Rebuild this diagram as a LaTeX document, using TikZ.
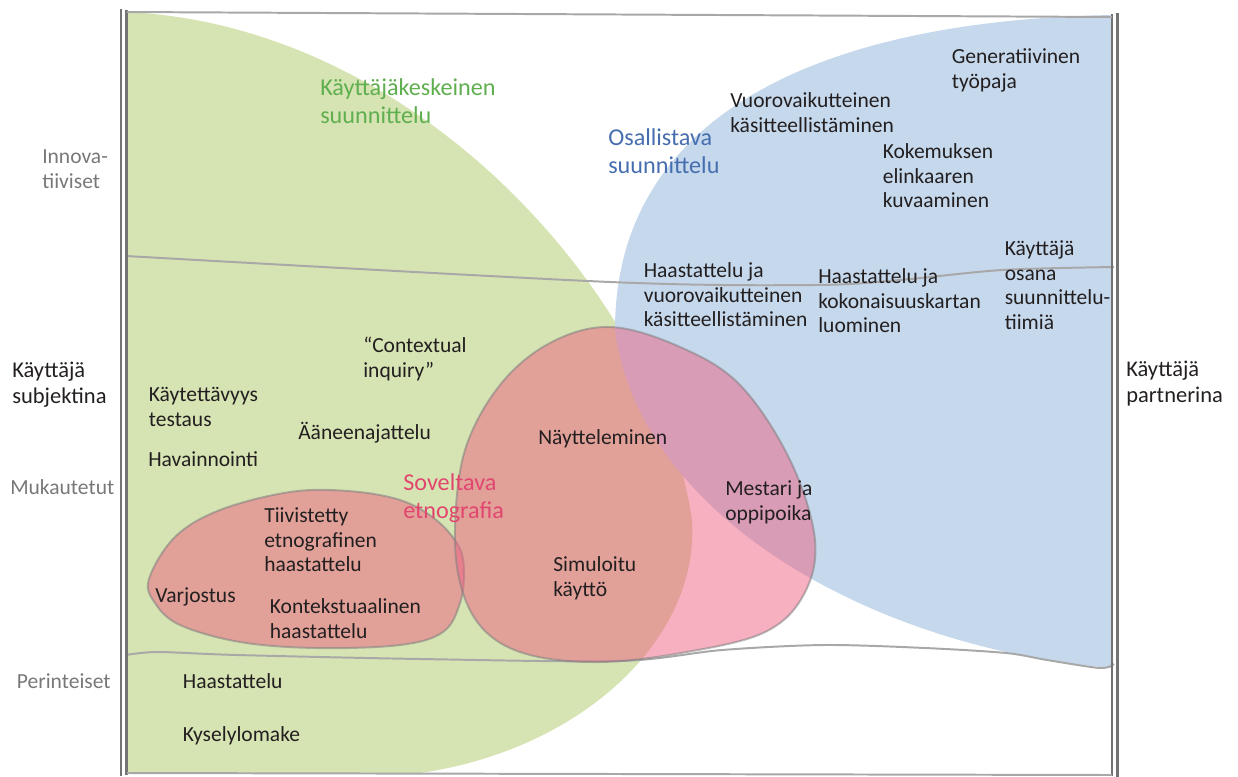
\documentclass[tikz,border=0pt]{standalone}
\usepackage{fontspec}
\setmainfont{Carlito}
\definecolor{kkgreen}{RGB}{214,227,178}
\definecolor{osblue}{RGB}{197,216,236}
\definecolor{sepink}{RGB}{237,97,129}
\definecolor{ink}{RGB}{35,31,32}
\definecolor{axisgrey}{RGB}{120,120,120}
\definecolor{framegrey}{RGB}{115,115,115}
\definecolor{linegrey}{RGB}{168,168,168}
\definecolor{greentext}{RGB}{95,175,80}
\definecolor{bluetext}{RGB}{70,110,175}
\definecolor{pinktext}{RGB}{225,70,110}
\newcommand\txtfont{\fontsize{15.3pt}{17.6pt}\selectfont}
\newcommand\sidefont{\fontsize{16pt}{18pt}\selectfont}
\newcommand\titlefont{\fontsize{17.2pt}{19.6pt}\selectfont}
\begin{document}
\begin{tikzpicture}[x=0.025cm,y=-0.025cm,
	lbl/.style={anchor=north west,inner sep=0pt,align=left,font=\txtfont,text=ink,yshift=12.32pt},
	axislbl/.style={lbl,text=axisgrey},
	sidelbl/.style={lbl,font=\sidefont,yshift=12.6pt},
	title/.style={lbl,font=\titlefont,yshift=13.72pt},
	blob/.style={fill=sepink,fill opacity=0.5,draw=gray,draw opacity=0.55,line width=1.4pt},
	frame/.style={draw=framegrey,line width=1.6pt},
	band/.style={draw=linegrey,line width=1.4pt}]
	\useasboundingbox (0,0) rectangle (1238,777);
	\fill[kkgreen] (126,12) .. controls (420,25) and (660,300) .. (692,520)
		.. controls (700,640) and (580,750) .. (420,773) -- (126,773) -- cycle;
	\fill[osblue] (1113,15) .. controls (820,20) and (615,115) .. (615,330)
		.. controls (640,520) and (880,650) .. (1113,668) -- cycle;
	\draw[band] plot[smooth,tension=0.5] coordinates {(126,256) (610,282) (815,285) (900,280) (1002,270) (1114,267)};
	\draw[band] plot[smooth,tension=0.5] coordinates {(126,655) (158,652) (237,655) (420,659) (620,661) (722,650) (824,645) (925,648) (1006,653) (1047,660) (1100,668) (1114,664)};
	\filldraw[blob] plot[smooth cycle,tension=0.6] coordinates {(149,579) (175,537) (220,510) (290,492) (348,491) (400,500) (435,519) (458,545) (464,570) (460,603) (443,632) (400,645) (316,648) (240,642) (180,625) (155,603)};
	\filldraw[blob] plot[smooth cycle,tension=0.6] coordinates {(610,327) (680,347) (740,385) (790,460) (815,540) (803,596) (763,633) (681,653) (600,662) (530,655) (486,632) (462,590) (455,530) (465,450) (500,385) (550,343)};
	\draw[frame] (121,9) -- (121,776);
	\draw[frame] (126.5,10) -- (126.5,775);
	\draw[frame] (1112,14) -- (1112,776);
	\draw[frame] (1117.5,13) -- (1117.5,777);
	\draw[band] (127,12) -- (1112,17);
	\draw[band] (127,773) -- (1112,775);
	\node[axislbl] (innova) at (42,163) {\strut Innova-\\tiiviset};
	\node[axislbl] (mukautetut) at (10,494) {\strut Mukautetut};
	\node[axislbl] (perinteiset) at (16.6,688) {\strut Perinteiset};
	\node[sidelbl] (subjektina) at (12,395) {\strut Käyttäjä\\subjektina};
	\node[sidelbl] (partnerina) at (1126,394) {\strut Käyttäjä\\partnerina};
	\node[title,text=greentext] (kkeskeinen) at (320,113) {\strut Käyttäjäkeskeinen\\suunnittelu};
	\node[title,text=bluetext] (osallistava) at (608,163) {\strut Osallistava\\suunnittelu};
	\node[title,text=pinktext] (soveltava) at (403,507.5) {\strut Soveltava\\etnografia};
	\node[lbl] (generatiivinen) at (951.6,63) {\strut Generatiivinen\\työpaja};
	\node[lbl] (vuorovaikutteinen) at (730,107) {\strut Vuorovaikutteinen\\käsitteellistäminen};
	\node[lbl] (kokemuksen) at (882.5,158) {\strut Kokemuksen\\elinkaaren\\kuvaaminen};
	\node[lbl] (osana) at (1004.5,255) {\strut Käyttäjä\\osana\\suunnittelu-\\tiimiä};
	\node[lbl] (haastkasite) at (643.5,277) {\strut Haastattelu ja\\vuorovaikutteinen\\käsitteellistäminen};
	\node[lbl] (haastkartta) at (818,283) {\strut Haastattelu ja\\kokonaisuuskartan\\luominen};
	\node[lbl] (contextual) at (363,352) {\strut “Contextual\\inquiry”};
	\node[lbl] (kaytettavyys) at (148.6,401.5) {\strut Käytettävyys\\testaus};
	\node[lbl] (aaneen) at (298,439) {\strut Ääneenajattelu};
	\node[lbl] (havainnointi) at (148,466) {\strut Havainnointi};
	\node[lbl] (nayttel) at (538,444.6) {\strut Näytteleminen};
	\node[lbl] (tiivistetty) at (264,522) {\strut Tiivistetty\\etnografinen\\haastattelu};
	\node[lbl] (mestari) at (725,495) {\strut Mestari ja\\oppipoika};
	\node[lbl] (simuloitu) at (553,571) {\strut Simuloitu\\käyttö};
	\node[lbl] (varjostus) at (155,602.5) {\strut Varjostus};
	\node[lbl] (kontekst) at (269.6,613.5) {\strut Kontekstuaalinen\\haastattelu};
	\node[lbl] (haastattelu) at (182.6,688.6) {\strut Haastattelu};
	\node[lbl] (kysely) at (182.6,741) {\strut Kyselylomake};
\end{tikzpicture}
\end{document}
